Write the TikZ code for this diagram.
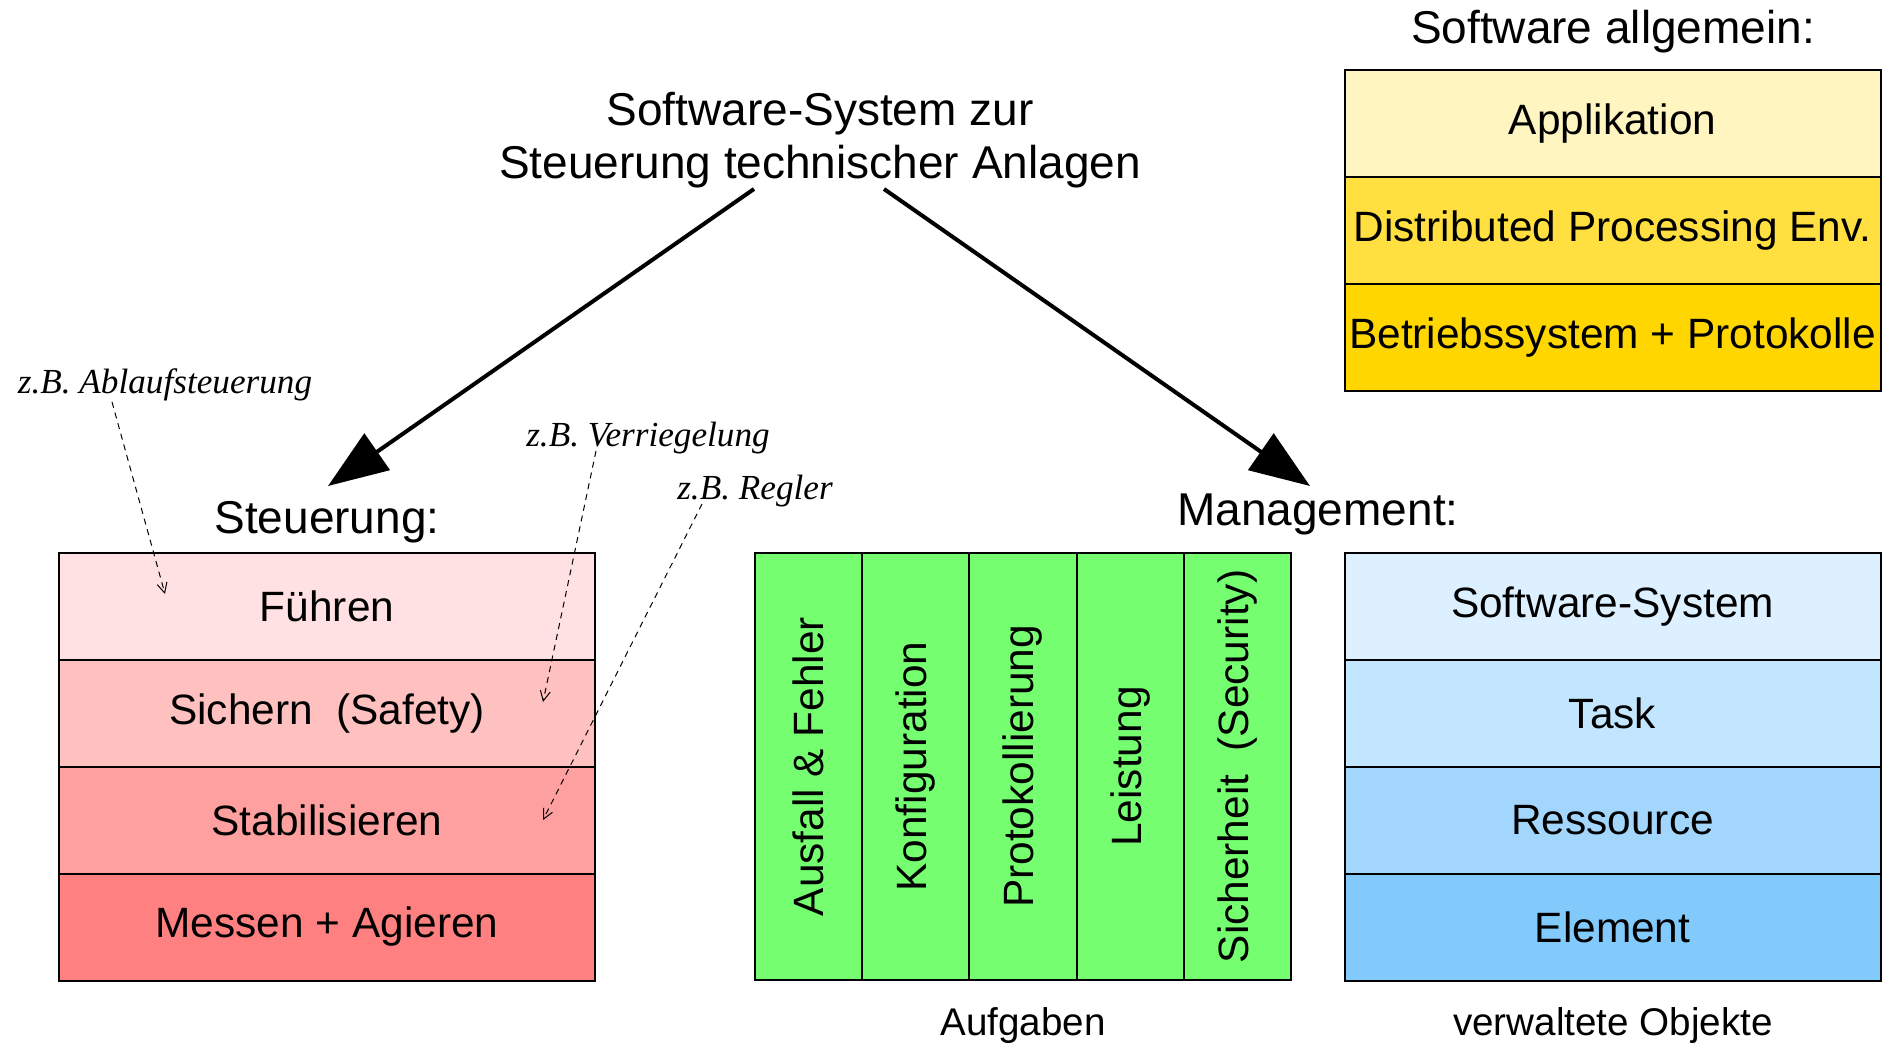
\documentclass[tikz,border=0pt]{standalone}
\usepackage{fontspec}
\setmainfont{Liberation Sans}
\newfontfamily\labfont{Liberation Serif}
\usetikzlibrary{arrows.meta}
\definecolor{pA}{RGB}{255,224,227}
\definecolor{pB}{RGB}{255,192,192}
\definecolor{pC}{RGB}{255,160,160}
\definecolor{pD}{RGB}{255,128,128}
\definecolor{gA}{RGB}{117,255,112}
\definecolor{bA}{RGB}{220,240,255}
\definecolor{bB}{RGB}{194,230,255}
\definecolor{bC}{RGB}{162,214,252}
\definecolor{bD}{RGB}{130,202,252}
\definecolor{yA}{RGB}{255,245,192}
\definecolor{yB}{RGB}{255,224,64}
\definecolor{yC}{RGB}{255,214,0}
\tikzset{
  cell/.style={draw=black, line width=1pt, minimum width=268pt, minimum height=53.5pt, inner sep=0pt, font=\fontsize{21.2}{24}\selectfont},
  vcell/.style={draw=black, line width=1pt, minimum width=53.6pt, minimum height=213.5pt, inner sep=0pt, fill=gA},
  vtext/.style={rotate=90, font=\fontsize{21.2}{24}\selectfont, inner sep=0pt},
  heading/.style={font=\fontsize{23}{26.5}\selectfont, inner sep=0pt},
  caption/.style={font=\fontsize{19.3}{22}\selectfont, inner sep=0pt},
  example/.style={font=\labfont\itshape\fontsize{17.6}{20}\selectfont, inner sep=0pt},
  bigarrow/.style={line width=2pt, -{Triangle[length=30pt,width=22pt]}},
  hint/.style={line width=0.5pt, dash pattern=on 3pt off 2.5pt, -{Straight Barb[length=5pt,width=5pt]}}
}
\begin{document}
\begin{tikzpicture}[x=0.5pt,y=-0.5pt]
\useasboundingbox (0,0) rectangle (1892,1043);

% title
\node[heading, align=center] (title) at (820,140) {Software-System zur\\Steuerung technischer Anlagen};
\coordinate (tl) at (754,189);
\coordinate (tr) at (884,189);

% headings
\node[heading] (steu) at (327,522) {Steuerung:};
\node[heading] (mgmt) at (1318,514) {Management:};
\node[heading] (swall) at (1613,32) {Software allgemein:};
\coordinate (steutip) at (328,486);
\coordinate (mgmttip) at (1310,486);

\draw[bigarrow] (tl) -- (steutip);
\draw[bigarrow] (tr) -- (mgmttip);

% Steuerung stack
\node[cell, fill=pA] (fuehren) at (327,606.5) {Führen};
\node[cell, fill=pB] (sichern) at (327,713.5) {Sichern\ \ (Safety)};
\node[cell, fill=pC] (stab) at (327,820.5) {Stabilisieren};
\node[cell, fill=pD] (messen) at (327,927) {Messen + Agieren};

% Management tasks
\node[vcell] (c1) at (808.6,766.5) {};
\node[vcell] (c2) at (915.8,766.5) {};
\node[vcell] (c3) at (1023,766.5) {};
\node[vcell] (c4) at (1130.2,766.5) {};
\node[vcell] (c5) at (1237.4,766.5) {};
\node[vtext] at (c1) {Ausfall \& Fehler};
\node[vtext] at (c2) {Konfiguration};
\node[vtext] at (c3) {Protokollierung};
\node[vtext] at (c4) {Leistung};
\node[vtext] at (c5) {Sicherheit\ \ (Security)};
\node[caption] (aufg) at (1023,1026) {Aufgaben};

% managed objects
\node[cell, fill=bA] (sws) at (1612.5,606.5) {Software-System};
\node[cell, fill=bB] (task) at (1612.5,713.5) {Task};
\node[cell, fill=bC] (ress) at (1612.5,820.5) {Ressource};
\node[cell, fill=bD] (elem) at (1612.5,927) {Element};
\node[caption] (objs) at (1613,1026) {verwaltete Objekte};

% software general
\node[cell, fill=yA] (appl) at (1612.5,124) {Applikation};
\node[cell, fill=yB] (dpe) at (1612.5,231) {Distributed Processing Env.};
\node[cell, fill=yC] (bs) at (1612.5,338) {Betriebssystem + Protokolle};

% examples
\node[example] (ex1) at (165,385) {z.B. Ablaufsteuerung};
\node[example] (ex2) at (648,438) {z.B. Verriegelung};
\node[example] (ex3) at (755,491) {z.B. Regler};
\coordinate (e1s) at (112,402);
\coordinate (e1e) at (165,594);
\coordinate (e2s) at (596,451);
\coordinate (e2e) at (543,702);
\coordinate (e3s) at (702,504);
\coordinate (e3e) at (543,820);
\draw[hint] (e1s) -- (e1e);
\draw[hint] (e2s) -- (e2e);
\draw[hint] (e3s) -- (e3e);
\end{tikzpicture}
\end{document}
